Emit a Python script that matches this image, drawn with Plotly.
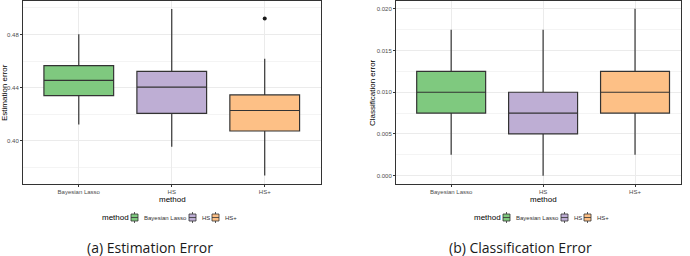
import plotly.graph_objects as go

methods = ["Bayesian Lasso", "HS", "HS+"]
colors = ["#7FC97F", "#BEAED4", "#FDC086"]

# Estimation error box stats
est_low = [0.4123, 0.3957, 0.3740]
est_q1 = [0.4340, 0.4207, 0.4075]
est_med = [0.4455, 0.4405, 0.4229]
est_q3 = [0.4566, 0.4523, 0.4346]
est_high = [0.4802, 0.4992, 0.4618]
est_outlier_method = ["HS+"]
est_outlier_value = [0.4920]

# Classification error box stats
cls_low = [0.0025, 0.0000, 0.0025]
cls_q1 = [0.0075, 0.0050, 0.0075]
cls_med = [0.0100, 0.0075, 0.0100]
cls_q3 = [0.0125, 0.0100, 0.0125]
cls_high = [0.0175, 0.0175, 0.0200]

est_ticks = [0.40, 0.44, 0.48]
cls_ticks = [0.000, 0.005, 0.010, 0.015, 0.020]

W, H = 690, 256
fig = go.Figure()
pos = {m: i + 1 for i, m in enumerate(methods)}
outline = "#333333"

for i, m in enumerate(methods):
    fig.add_trace(go.Box(
        x=[pos[m]], q1=[est_q1[i]], median=[est_med[i]], q3=[est_q3[i]],
        lowerfence=[est_low[i]], upperfence=[est_high[i]],
        name=m, width=0.75, fillcolor=colors[i], whiskerwidth=0,
        line=dict(color=outline, width=1.2), boxpoints=False, showlegend=False,
        xaxis="x", yaxis="y", hoverinfo="skip"))
    fig.add_trace(go.Box(
        x=[pos[m]], q1=[cls_q1[i]], median=[cls_med[i]], q3=[cls_q3[i]],
        lowerfence=[cls_low[i]], upperfence=[cls_high[i]],
        name=m, width=0.75, fillcolor=colors[i], whiskerwidth=0,
        line=dict(color=outline, width=1.2), boxpoints=False, showlegend=False,
        xaxis="x2", yaxis="y2", hoverinfo="skip"))

fig.add_trace(go.Scatter(
    x=[pos[m] for m in est_outlier_method], y=est_outlier_value, mode="markers",
    marker=dict(color="#1a1a1a", size=4), showlegend=False,
    xaxis="x", yaxis="y"))

grid = "#EBEBEB"
tickfont = dict(family="Liberation Sans, Arial, sans-serif", size=6, color="#4D4D4D")
common_x = dict(tickvals=[1, 2, 3], ticktext=methods, showgrid=True, gridcolor=grid,
                gridwidth=0.8, zeroline=False, ticks="outside", ticklen=2,
                tickcolor="#333333", tickfont=tickfont, showline=True, mirror=True,
                linecolor="#333333", linewidth=1)
common_y = dict(showgrid=True, gridcolor=grid, gridwidth=0.8, zeroline=False,
                ticks="outside", ticklen=2, tickcolor="#333333", tickfont=tickfont,
                showline=True, mirror=True, linecolor="#333333", linewidth=1)

top = 1 - 0.5 / H
bottom = 1 - 184 / H
fig.update_layout(
    width=W, height=H, margin=dict(l=0, r=0, t=0, b=0),
    paper_bgcolor="white", plot_bgcolor="white", showlegend=False,
    xaxis=dict(domain=[23 / W, 320.5 / W], range=[0.4, 3.6], anchor="y", **common_x),
    yaxis=dict(domain=[bottom, top], range=[0.3677, 0.5055], anchor="x",
               tickvals=est_ticks, ticktext=[f"{v:.2f}" for v in est_ticks],
               minor=dict(tickvals=[0.38, 0.42, 0.46, 0.50], showgrid=True,
                          gridcolor="#F4F4F4", gridwidth=0.6, ticks=""),
               **common_y),
    xaxis2=dict(domain=[396 / W, 681 / W], range=[0.4, 3.5], anchor="y2", **common_x),
    yaxis2=dict(domain=[bottom, top], range=[-0.001, 0.021], anchor="x2",
                tickvals=cls_ticks, ticktext=[f"{v:.3f}" for v in cls_ticks],
                minor=dict(tickvals=[0.0025, 0.0075, 0.0125, 0.0175], showgrid=True,
                           gridcolor="#F4F4F4", gridwidth=0.6, ticks=""),
                **common_y),
)

afont = dict(family="Liberation Sans, Arial, sans-serif", size=8, color="black")
lfont = dict(family="Liberation Sans, Arial, sans-serif", size=6, color="#333333")
cfont = dict(family="Open Sans, Noto Sans, sans-serif", size=14, color="#1a1a1a")


def px_x(x):
    return x / W


def px_y(y):
    return 1 - y / H


annots = [
    dict(text="method", x=px_x(172), y=px_y(199), font=afont),
    dict(text="method", x=px_x(543), y=px_y(199), font=afont),
    dict(text="Estimation error", x=px_x(4), y=px_y(93), font=afont, textangle=-90),
    dict(text="Classification error", x=px_x(372), y=px_y(93), font=afont, textangle=-90),
    dict(text="(a) Estimation Error", x=px_x(150), y=px_y(247), font=cfont),
    dict(text="(b) Classification Error", x=px_x(520), y=px_y(247), font=cfont),
]

# Manual legends (one per panel), styled like ggplot's key glyphs
legend_starts = [100, 472]
icon_offsets = [31, 89, 112]
legend_y = 217.5
for x0 in legend_starts:
    annots.append(dict(text="method", x=px_x(x0), y=px_y(legend_y), font=afont,
                       xanchor="left"))
    for i, m in enumerate(methods):
        ix = x0 + icon_offsets[i]
        fig.add_shape(type="line", xref="paper", yref="paper",
                      x0=px_x(ix + 3.5), x1=px_x(ix + 3.5),
                      y0=px_y(legend_y - 5.5), y1=px_y(legend_y + 5.5),
                      line=dict(color=outline, width=0.8))
        fig.add_shape(type="rect", xref="paper", yref="paper",
                      x0=px_x(ix), x1=px_x(ix + 7),
                      y0=px_y(legend_y - 3.5), y1=px_y(legend_y + 3.5),
                      fillcolor=colors[i], line=dict(color=outline, width=0.8))
        fig.add_shape(type="line", xref="paper", yref="paper",
                      x0=px_x(ix), x1=px_x(ix + 7),
                      y0=px_y(legend_y), y1=px_y(legend_y),
                      line=dict(color=outline, width=0.8))
        annots.append(dict(text=m, x=px_x(ix + 11), y=px_y(legend_y), font=lfont,
                           xanchor="left"))

for a in annots:
    a.setdefault("xanchor", "center")
    fig.add_annotation(xref="paper", yref="paper", showarrow=False,
                       yanchor="middle", **a)

fig.write_html("out.html", config={"displayModeBar": False},
               post_script="document.body.style.margin='0';document.body.style.overflow='hidden';")
